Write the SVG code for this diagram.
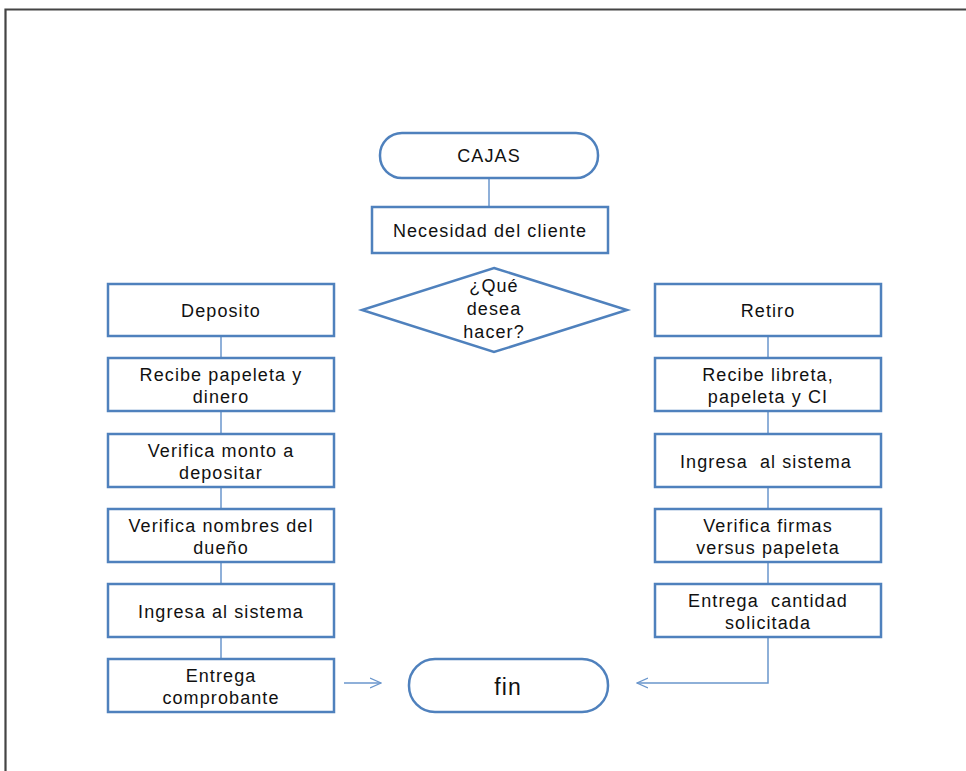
<svg xmlns="http://www.w3.org/2000/svg" width="966" height="771" viewBox="0 0 966 771">
<defs>
<style>
.box{fill:#fff;stroke:#4f81bd;stroke-width:2.5}
.con{fill:none;stroke:#6a96cc;stroke-width:1.5}
.t{font-family:"Liberation Sans",Arial,sans-serif;font-size:18px;letter-spacing:1.1px;fill:#111;text-anchor:middle;white-space:pre}
</style>
<marker id="ah" viewBox="0 0 12 12" refX="11" refY="6" markerWidth="12" markerHeight="12" markerUnits="userSpaceOnUse" orient="auto">
<path d="M0,1 L11,6 L0,11" fill="none" stroke="#6a96cc" stroke-width="1.3"/>
</marker>
</defs>
<rect width="966" height="771" fill="#fff"/>
<path d="M5.5,771 V9.5 H966" fill="none" stroke="#444" stroke-width="2.2"/>
<g id="connectors">
<line class="con" x1="489" y1="178" x2="489" y2="207"/>
<line class="con" x1="221" y1="336" x2="221" y2="659"/>
<line class="con" x1="768" y1="336" x2="768" y2="584"/>
<polyline class="con" points="768,637 768,683 637,683" marker-end="url(#ah)"/>
<line class="con" x1="344" y1="683" x2="381" y2="683" marker-end="url(#ah)"/>
</g>
<g id="cajas"><rect class="box" x="380" y="133" width="218" height="45" rx="22"/><text class="t" x="489" y="162">CAJAS</text></g>
<g id="necesidad"><rect class="box" x="372" y="207" width="236" height="46"/><text class="t" x="490" y="237">Necesidad del cliente</text></g>
<g id="decision"><polygon class="box" points="494,268 627,310 494,352 362,310"/><text class="t" x="494" y="292">¿Qué</text><text class="t" x="494" y="315">desea</text><text class="t" x="494" y="338">hacer?</text></g>
<g id="deposito"><rect class="box" x="108" y="284" width="226" height="52"/><text class="t" x="221" y="317">Deposito</text></g>
<g id="recibe-papeleta"><rect class="box" x="108" y="358" width="226" height="53"/><text class="t" x="221" y="381">Recibe papeleta y</text><text class="t" x="221" y="403">dinero</text></g>
<g id="verifica-monto"><rect class="box" x="108" y="434" width="226" height="53"/><text class="t" x="221" y="457">Verifica monto a</text><text class="t" x="221" y="479">depositar</text></g>
<g id="verifica-nombres"><rect class="box" x="108" y="509" width="226" height="53"/><text class="t" x="221" y="532">Verifica nombres del</text><text class="t" x="221" y="554">dueño</text></g>
<g id="ingresa-izq"><rect class="box" x="108" y="584" width="226" height="53"/><text class="t" x="221" y="618">Ingresa al sistema</text></g>
<g id="entrega-comprobante"><rect class="box" x="108" y="659" width="226" height="53"/><text class="t" x="221" y="682">Entrega</text><text class="t" x="221" y="704">comprobante</text></g>
<g id="retiro"><rect class="box" x="655" y="284" width="226" height="52"/><text class="t" x="768" y="317">Retiro</text></g>
<g id="recibe-libreta"><rect class="box" x="655" y="358" width="226" height="53"/><text class="t" x="768" y="381">Recibe libreta,</text><text class="t" x="768" y="403">papeleta y CI</text></g>
<g id="ingresa-der"><rect class="box" x="655" y="434" width="226" height="53"/><text class="t" x="766" y="468">Ingresa  al sistema</text></g>
<g id="verifica-firmas"><rect class="box" x="655" y="509" width="226" height="53"/><text class="t" x="768" y="532">Verifica firmas</text><text class="t" x="768" y="554">versus papeleta</text></g>
<g id="entrega-cantidad"><rect class="box" x="655" y="584" width="226" height="53"/><text class="t" x="768" y="607">Entrega  cantidad</text><text class="t" x="768" y="629">solicitada</text></g>
<g id="fin"><rect class="box" x="409" y="659" width="199" height="53" rx="26"/><text class="t" x="508" y="695" style="font-size:23px">fin</text></g>
</svg>
